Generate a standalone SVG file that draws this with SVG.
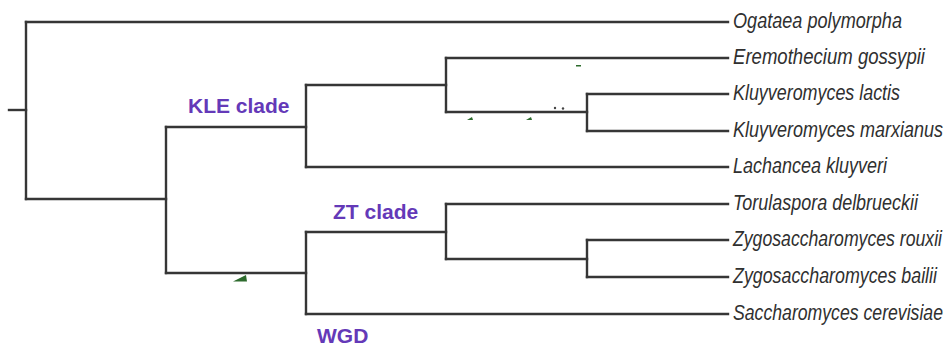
<svg xmlns="http://www.w3.org/2000/svg" width="948" height="349" viewBox="0 0 948 349">
  <style>
    .edge { fill: none; stroke: #363636; stroke-width: 2.4; stroke-linecap: square; }
    .leaf { font-family: "Liberation Sans", Arial, sans-serif; font-style: italic; font-size: 22px; fill: #303030; }
    .clade { font-family: "Liberation Sans", Arial, sans-serif; font-weight: bold; font-size: 21px; fill: #6439b8; }
    .speck { fill: #2d6b2d; }
    .dot { fill: #444444; }
  </style>
  <rect width="948" height="349" fill="#ffffff"/>

  <g id="connectors">
    <path class="edge" d="M9,110 H26"/>
    <path class="edge" d="M26,22 V199"/>
    <path class="edge" d="M26,22 H728"/>
    <path class="edge" d="M26,199 H166"/>
    <path class="edge" d="M166,127 V273"/>
    <path class="edge" d="M166,127 H306"/>
    <path class="edge" d="M166,273 H306"/>
    <path class="edge" d="M306,85 V167"/>
    <path class="edge" d="M306,85 H446"/>
    <path class="edge" d="M306,167 H728"/>
    <path class="edge" d="M446,58 V112"/>
    <path class="edge" d="M446,58 H728"/>
    <path class="edge" d="M446,112 H587"/>
    <path class="edge" d="M587,94 V131"/>
    <path class="edge" d="M587,94 H728"/>
    <path class="edge" d="M587,131 H728"/>
    <path class="edge" d="M306,232 V314"/>
    <path class="edge" d="M306,232 H446"/>
    <path class="edge" d="M306,314 H728"/>
    <path class="edge" d="M446,204 V259"/>
    <path class="edge" d="M446,204 H728"/>
    <path class="edge" d="M446,259 H587"/>
    <path class="edge" d="M587,240 V277"/>
    <path class="edge" d="M587,240 H728"/>
    <path class="edge" d="M587,277 H728"/>
  </g>

  <g id="specks">
    <polygon class="speck" points="233,281.5 246,275 247,281.5"/>
    <polygon class="speck" points="467,120 472,117 473,120"/>
    <polygon class="speck" points="526,120 531,117 532,120"/>
    <rect class="speck" x="576" y="65" width="5" height="1.5"/>
    <circle class="dot" cx="555" cy="108" r="1.2"/>
    <circle class="dot" cx="563" cy="108.5" r="1.2"/>
  </g>

  <g id="leaf-ogataea"><text class="leaf" x="733" y="28" textLength="169" lengthAdjust="spacingAndGlyphs">Ogataea polymorpha</text></g>
  <g id="leaf-eremothecium"><text class="leaf" x="733" y="64" textLength="192" lengthAdjust="spacingAndGlyphs">Eremothecium gossypii</text></g>
  <g id="leaf-klactis"><text class="leaf" x="733" y="100" textLength="167" lengthAdjust="spacingAndGlyphs">Kluyveromyces lactis</text></g>
  <g id="leaf-kmarxianus"><text class="leaf" x="733" y="137" textLength="210" lengthAdjust="spacingAndGlyphs">Kluyveromyces marxianus</text></g>
  <g id="leaf-lachancea"><text class="leaf" x="733" y="173" textLength="154" lengthAdjust="spacingAndGlyphs">Lachancea kluyveri</text></g>
  <g id="leaf-torulaspora"><text class="leaf" x="733" y="210" textLength="185" lengthAdjust="spacingAndGlyphs">Torulaspora delbrueckii</text></g>
  <g id="leaf-zrouxii"><text class="leaf" x="733" y="246" textLength="209" lengthAdjust="spacingAndGlyphs">Zygosaccharomyces rouxii</text></g>
  <g id="leaf-zbailii"><text class="leaf" x="733" y="283" textLength="204" lengthAdjust="spacingAndGlyphs">Zygosaccharomyces bailii</text></g>
  <g id="leaf-scerevisiae"><text class="leaf" x="733" y="320" textLength="210" lengthAdjust="spacingAndGlyphs">Saccharomyces cerevisiae</text></g>

  <g id="label-kle"><text class="clade" x="188" y="112.5">KLE clade</text></g>
  <g id="label-zt"><text class="clade" x="333" y="218.5">ZT clade</text></g>
  <g id="label-wgd"><text class="clade" x="317" y="343">WGD</text></g>
</svg>
